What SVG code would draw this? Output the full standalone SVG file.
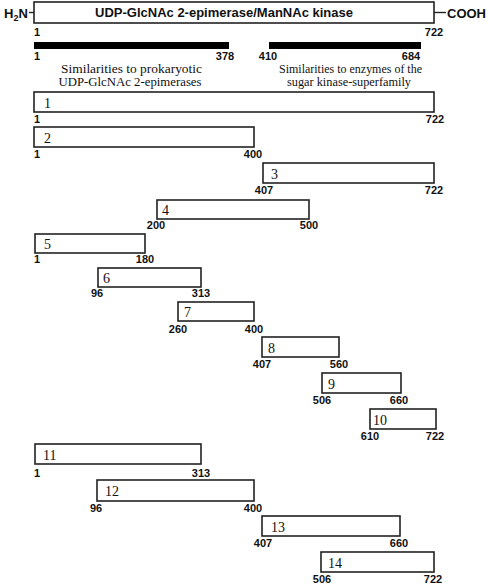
<svg xmlns="http://www.w3.org/2000/svg" width="488" height="586" viewBox="0 0 488 586">
<style>
.box{fill:#fff;stroke:#222;stroke-width:1.6}
.bar{fill:#000}
.pos{font-family:"Liberation Sans",Arial,sans-serif;font-weight:bold;font-size:11px;fill:#111;text-anchor:middle}
.num{font-family:"Liberation Serif","Times New Roman",serif;font-size:14px;fill:#111}
.cap{font-family:"Liberation Serif","Times New Roman",serif;font-size:13.5px;fill:#111}
.ttl{font-family:"Liberation Sans",Arial,sans-serif;font-weight:bold;font-size:13px;fill:#111}
.ln{stroke:#222;stroke-width:1.4}
</style>
<g id="protein">
<rect class="box" x="34" y="2" width="400" height="21"/>
<text class="ttl" x="224" y="17" text-anchor="middle">UDP-GlcNAc 2-epimerase/ManNAc kinase</text>
<text class="ttl" x="4" y="18">H<tspan font-size="9" dy="3">2</tspan><tspan dy="-3">N</tspan></text>
<text class="ttl" x="447" y="18">COOH</text>
<text class="pos" x="37" y="36">1</text>
<text class="pos" x="434" y="36">722</text>
</g>
<g id="connectors">
<line class="ln" x1="29" y1="12.5" x2="34" y2="12.5"/>
<line class="ln" x1="434" y1="12.5" x2="446" y2="12.5"/>
</g>
<g id="domain-epimerase">
<rect class="bar" x="34" y="42" width="195" height="7"/>
<text class="pos" x="37" y="60">1</text>
<text class="pos" x="225" y="60">378</text>
<text class="cap" x="61" y="73" textLength="141" lengthAdjust="spacingAndGlyphs">Similarities to prokaryotic</text>
<text class="cap" x="58.5" y="86" textLength="143" lengthAdjust="spacingAndGlyphs">UDP-GlcNAc 2-epimerases</text>
</g>
<g id="domain-kinase">
<rect class="bar" x="269" y="42" width="152" height="7"/>
<text class="pos" x="268" y="60">410</text>
<text class="pos" x="411" y="60">684</text>
<text class="cap" x="279" y="73" textLength="143" lengthAdjust="spacingAndGlyphs">Similarities to enzymes of the</text>
<text class="cap" x="287" y="86" textLength="124" lengthAdjust="spacingAndGlyphs">sugar kinase-superfamily</text>
</g>
<g id="f1"><rect class="box" x="34" y="92" width="400" height="20"/><text class="num" x="44" y="108">1</text><text class="pos" x="37" y="123">1</text><text class="pos" x="435" y="123">722</text></g>
<g id="f2"><rect class="box" x="34" y="127" width="220" height="20"/><text class="num" x="44" y="143">2</text><text class="pos" x="37" y="158">1</text><text class="pos" x="253" y="158">400</text></g>
<g id="f3"><rect class="box" x="263" y="163" width="171" height="20"/><text class="num" x="271" y="179">3</text><text class="pos" x="264" y="194">407</text><text class="pos" x="434" y="194">722</text></g>
<g id="f4"><rect class="box" x="157" y="200" width="152" height="19"/><text class="num" x="162" y="215">4</text><text class="pos" x="156" y="229">200</text><text class="pos" x="309" y="229">500</text></g>
<g id="f5"><rect class="box" x="35" y="234" width="110" height="19"/><text class="num" x="44" y="249">5</text><text class="pos" x="37" y="263">1</text><text class="pos" x="145" y="263">180</text></g>
<g id="f6"><rect class="box" x="98" y="268" width="103" height="19"/><text class="num" x="103" y="283">6</text><text class="pos" x="97" y="297">96</text><text class="pos" x="201" y="297">313</text></g>
<g id="f7"><rect class="box" x="178" y="302" width="76" height="19"/><text class="num" x="184" y="317">7</text><text class="pos" x="178" y="333">260</text><text class="pos" x="254" y="333">400</text></g>
<g id="f8"><rect class="box" x="262" y="337" width="77" height="20"/><text class="num" x="268" y="353">8</text><text class="pos" x="262" y="368">407</text><text class="pos" x="339" y="368">560</text></g>
<g id="f9"><rect class="box" x="322" y="373" width="79" height="20"/><text class="num" x="328" y="389">9</text><text class="pos" x="322" y="404">506</text><text class="pos" x="399" y="404">660</text></g>
<g id="f10"><rect class="box" x="370" y="409" width="66" height="20"/><text class="num" x="373" y="425">10</text><text class="pos" x="370" y="440">610</text><text class="pos" x="435" y="440">722</text></g>
<g id="f11"><rect class="box" x="35" y="444" width="166" height="20"/><text class="num" x="43" y="460">11</text><text class="pos" x="37" y="477">1</text><text class="pos" x="201" y="477">313</text></g>
<g id="f12"><rect class="box" x="97" y="480" width="157" height="21" stroke-width="2"/><text class="num" x="105" y="496">12</text><text class="pos" x="96" y="512">96</text><text class="pos" x="253" y="512">400</text></g>
<g id="f13"><rect class="box" x="262" y="516" width="138" height="20"/><text class="num" x="271" y="532">13</text><text class="pos" x="263" y="547">407</text><text class="pos" x="399" y="547">660</text></g>
<g id="f14"><rect class="box" x="321" y="552" width="113" height="20"/><text class="num" x="328" y="568">14</text><text class="pos" x="322" y="583">506</text><text class="pos" x="433" y="583">722</text></g>
</svg>
